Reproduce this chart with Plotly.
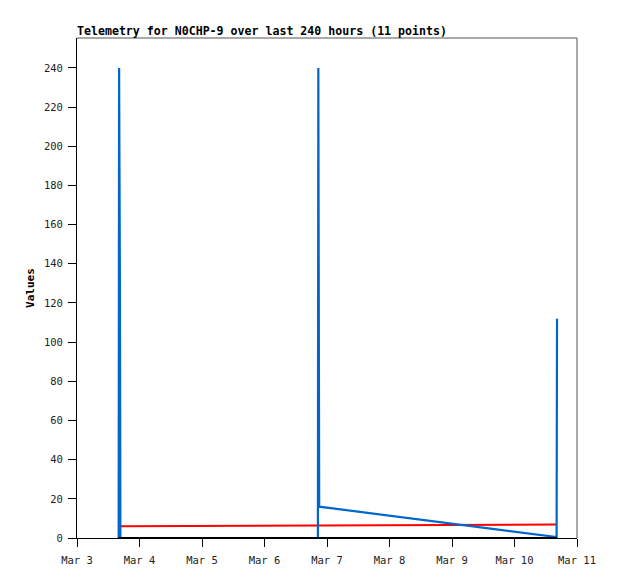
import plotly.graph_objects as go

title_text = "Telemetry for N0CHP-9 over last 240 hours (11 points)"
y_title = "Values"

blue_times = ["2024-03-03 16:00", "2024-03-03 16:10", "2024-03-03 16:30", "2024-03-03 16:40",
              "2024-03-06 20:30", "2024-03-06 20:40", "2024-03-06 21:00",
              "2024-03-10 16:10", "2024-03-10 16:20"]
blue_values = [0, 240, 120, 0, 0, 240, 16, 0.5, 112]

red_times = ["2024-03-03 16:40", "2024-03-10 16:10"]
red_values = [6.0, 6.9]

black_times = ["2024-03-03 16:00", "2024-03-10 16:20"]
black_values = [0, 0]

x_range = ["2024-03-03", "2024-03-11"]
y_range = [0, 255.3]
y_ticks = list(range(0, 241, 20))

fig = go.Figure()
fig.add_trace(go.Scatter(x=red_times, y=red_values, mode="lines",
                         line=dict(color="#FF0000", width=2), showlegend=False))
fig.add_trace(go.Scatter(x=blue_times, y=blue_values, mode="lines",
                         line=dict(color="#0066CC", width=2.2), showlegend=False))
fig.add_trace(go.Scatter(x=black_times, y=black_values, mode="lines",
                         line=dict(color="#000000", width=2), showlegend=False))

mono = "DejaVu Sans Mono"
W, H = 610, 571
fig.update_layout(
    width=W, height=H,
    margin=dict(l=69, r=41, t=30, b=41),
    paper_bgcolor="white", plot_bgcolor="white",
    title=dict(text="<b>" + title_text + "</b>", x=69/W, xanchor="left", xref="container",
               y=1 - 23/H, yanchor="middle", yref="container",
               font=dict(family=mono, size=11.6, color="black")),
    font=dict(family=mono, size=10, color="black"),
    xaxis=dict(range=x_range, type="date", dtick=86400000, tick0="2024-03-03",
               tickformat="%b %-d", showgrid=False, zeroline=False,
               showline=True, linecolor="black", linewidth=1,
               ticks="outside", ticklen=8, tickcolor="black",
               ticklabelstandoff=4,
               tickfont=dict(family=mono, size=10.5, color="#222222")),
    yaxis=dict(range=y_range, tickvals=y_ticks, showgrid=False, zeroline=False,
               showline=True, linecolor="black", linewidth=1,
               ticks="outside", ticklen=8, tickcolor="black",
               ticklabelstandoff=3,
               tickfont=dict(family=mono, size=10.5, color="#222222"),
               title=dict(text="<b>" + y_title + "</b>", standoff=7,
                          font=dict(family=mono, size=11, color="black"))),
    shapes=[
        dict(type="line", xref="paper", yref="paper", x0=0, x1=1, y0=1, y1=1,
             line=dict(color="#555555", width=1)),
        dict(type="line", xref="paper", yref="paper", x0=1, x1=1, y0=0, y1=1,
             line=dict(color="#555555", width=1)),
    ],
)

fig.write_html("out.html")
